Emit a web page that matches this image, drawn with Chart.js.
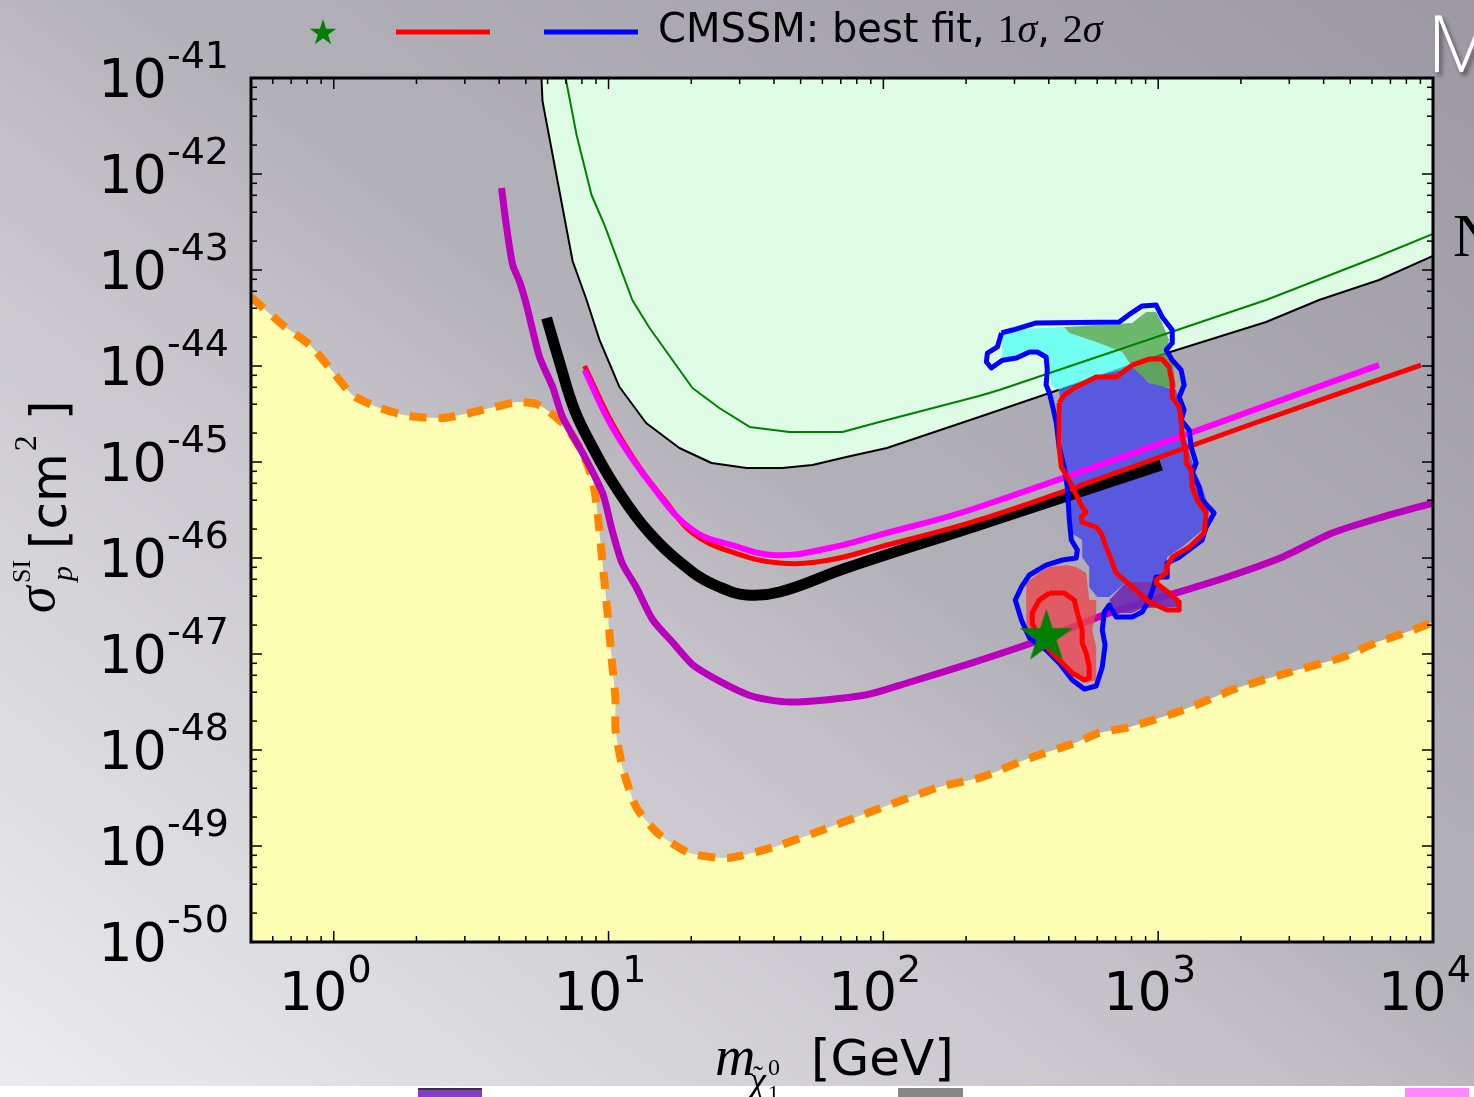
<!DOCTYPE html>
<html lang="en">
<head>
<meta charset="UTF-8" />
<title>Spin-independent cross section vs neutralino mass</title>
<script src="https://cdn.jsdelivr.net/npm/chart.js"></script>
<style>
  body { margin: 0; background: #fff; }
  #wrap { position: relative; width: 1474px; height: 1097px; overflow: hidden; background: #fff; }
  #slide { position: absolute; left: 0; top: 0; width: 1474px; height: 1086px;
    background: linear-gradient(to top right, #ececef 0%, #c4c2c8 43%, #b3b1b8 55%, #9c99a4 100%); }
  .swatch { position: absolute; top: 1088px; height: 9px; }
  #chart { position: absolute; left: 0; top: 0; }
  #slideM { position: absolute; left: 1427px; top: -14px; font: 300 80px "Open Sans", sans-serif; color: #fff;
    text-shadow: 3px 4px 4px rgba(0,0,0,0.45); }
  #slideN { position: absolute; left: 1453px; top: 200px; font: 62px "Liberation Serif", serif; color: #000; }
</style>
</head>
<body>
<div id="wrap">
  <div id="slide"></div>
  <div class="swatch" style="left:418px;width:64px;background:#8040c0;border-top:2px solid #333;"></div>
  <div class="swatch" style="left:898px;width:65px;background:#878787;"></div>
  <div class="swatch" style="left:1405px;width:64px;background:#ff88ff;"></div>
  <canvas id="chart" width="1474" height="1097"></canvas>
  <div id="slideM">M</div>
  <div id="slideN">N</div>
</div>
<script>
  // axis ranges and tick labels (decade exponents)
  const xRange = [0.5, 1e4];
  const yRange = [1e-50, 1e-41];
  const xTickExponents = [0, 1, 2, 3, 4];
  const yTickExponents = [-41, -42, -43, -44, -45, -46, -47, -48, -49, -50];

  // [mass (GeV), sigma_SI (cm^2)]
  const limitThinBlack = [[5.70,1e-41],[5.75,5.75e-42],[7.40,1.24e-43],[8.32,4.87e-44],[9.27,1.87e-44],[10.96,6.04e-45],
    [13.7,2.55e-45],[18.1,1.40e-45],[23.7,9.77e-46],[31.8,8.66e-46],[42.9,8.66e-46],[55.2,9.31e-46],[73.3,1.13e-45],
    [103,1.40e-45],[223,2.94e-45],[1070,1.36e-44],[2470,2.87e-44],[3850,4.87e-44],[6360,7.87e-44],[1e4,1.40e-43]];

  const limitThinGreen = [[6.98,1e-41],[7.65,2.55e-42],[8.67,6.04e-43],[9.67,2.94e-43],[12.2,4.87e-44],[14.1,2.49e-44],
    [20.2,5.90e-45],[25.3,3.65e-45],[32.6,2.32e-45],[45.5,2.05e-45],[71.0,2.05e-45],[96.7,2.61e-45],[223,4.87e-45],
    [264,5.62e-45],[2470,4.87e-44],[6360,1.40e-43],[1e4,2.37e-43]];

  const neutrinoFloor = [[0.5,5.24e-44],[0.653,2.67e-44],[0.818,1.66e-44],[0.967,9.53e-45],[1.17,4.99e-45],[1.47,3.65e-45],
    [1.89,3.01e-45],[2.49,2.87e-45],[3.12,3.24e-45],[4.12,3.92e-45],[4.63,4.22e-45],[5.47,4.02e-45],[6.10,3.32e-45],
    [7.03,2.32e-45],[8.05,1.24e-45],[8.75,6.49e-46],[9.12,2.94e-46],[9.51,8.87e-47],[9.92,2.67e-47],[10.3,8.05e-48],
    [10.6,3.32e-48],[10.6,1.62e-48],[11.3,6.19e-49],[12.6,2.55e-49],[15.1,1.36e-49],[19.7,8.45e-50],[27.1,7.50e-50],
    [40.1,9.77e-50],[60.0,1.47e-49],[93.5,2.37e-49],[160,4.12e-49],[229,5.24e-49],[326,7.87e-49],[508,1.21e-48],
    [605,1.50e-48],[791,1.74e-48],[1233,2.61e-48],[1937,4.42e-48],[3020,6.49e-48],[4710,9.31e-48],[6150,1.30e-47],
    [8040,1.69e-47],[1e4,2.15e-47]];

  const curvePurple = [[4.08,7.14e-43],[4.26,2.74e-43],[4.48,1.13e-43],[4.75,7.50e-44],[5.03,4.31e-44],[5.61,1.24e-44],
    [6.26,6.04e-45],[6.80,2.94e-45],[8.05,1.24e-45],[9.51,4.75e-46],[10.3,1.96e-46],[11.2,8.87e-47],[12.6,4.99e-47],
    [14.5,2.26e-47],[17.2,1.30e-47],[20.7,7.33e-48],[32.3,3.74e-48],[45.9,3.16e-48],[86.0,3.74e-48],[122,4.99e-48],
    [209,8.05e-48],[372,1.40e-47],[664,2.67e-47],[1532,5.50e-47],[2825,1.02e-46],[4295,1.82e-46],[6530,2.67e-46],
    [1e4,3.74e-46]];

  const curveBlack = [[5.95,3.16e-44],[6.63,1.10e-44],[7.52,3.48e-45],[8.67,1.50e-45],[10.5,5.75e-46],[14.1,1.82e-46],
    [20.2,7.14e-47],[25.3,4.99e-47],[31.8,4.12e-47],[41.9,4.42e-47],[73.3,7.87e-47],[223,2.21e-46],[1025,9.31e-46]];

  const curveRed = [[8.18,1.00e-44],[10.3,2.55e-45],[13.0,8.66e-46],[16.0,4.02e-46],[20.2,1.82e-46],[28.2,1.15e-46],
    [41.9,8.87e-47],[63.6,9.53e-47],[96.7,1.30e-46],[223,2.49e-46],[804,8.87e-46],[2143,2.43e-45],[9040,1.02e-44]];

  const curveMagenta = [[8.18,9.09e-45],[10.3,2.32e-45],[14.5,5.50e-46],[20.2,1.96e-46],[28.2,1.36e-46],[40.8,1.07e-46],
    [63.6,1.27e-46],[96.7,1.74e-46],[223,3.40e-46],[6360,1.02e-44]];

  // CMSSM fit: 2 sigma (blue) and 1 sigma (red) contours
  const contour2Sigma = [[269,2.21e-44],[295,2.37e-44],[360,2.81e-44],[721,2.87e-44],[798,3.56e-44],[875,4.22e-44],
    [983,4.31e-44],[1034,3.24e-44],[1125,2.37e-44],[1125,1.74e-44],[1070,1.47e-44],[1125,1.15e-44],[1212,9.09e-45],
    [1243,6.34e-45],[1192,4.75e-45],[1243,3.48e-45],[1212,2.74e-45],[1297,2.15e-45],[1318,1.43e-45],[1374,9.76e-46],
    [1330,7.68e-46],[1409,5.50e-46],[1445,4.02e-46],[1598,2.94e-46],[1495,2.10e-46],[1445,1.54e-46],[1192,1.02e-46],
    [1078,8.87e-47],[1078,6.34e-47],[983,6.34e-47],[967,5.24e-47],[927,3.65e-47],[875,2.74e-47],[804,2.43e-47],
    [703,2.43e-47],[664,3.24e-47],[637,2.74e-47],[626,1.78e-47],[641,1.24e-47],[626,7.33e-48],[595,4.64e-48],
    [538,4.31e-48],[487,5.36e-48],[436,8.05e-48],[391,1.10e-47],[340,1.47e-47],[318,2.26e-47],[302,3.65e-47],
    [318,4.99e-47],[340,6.65e-47],[391,8.45e-47],[448,9.53e-47],[503,1.00e-46],[508,1.21e-46],[483,1.54e-46],
    [475,2.49e-46],[467,5.50e-46],[455,8.87e-46],[436,1.43e-45],[426,2.55e-45],[412,3.92e-45],[402,5.24e-45],
    [391,6.34e-45],[395,9.09e-45],[391,1.24e-44],[363,1.40e-44],[340,1.40e-44],[305,1.21e-44],[271,1.15e-44],
    [247,9.53e-45],[237,1.10e-44],[239,1.36e-44],[260,1.58e-44]];

  const contour1SigmaMain = [[436,4.12e-45],[455,4.99e-45],[503,6.04e-45],[595,7.68e-45],[703,7.68e-45],[804,1.02e-44],
    [927,1.18e-44],[1034,1.18e-44],[1096,9.76e-45],[1125,6.65e-45],[1125,4.75e-45],[1192,3.74e-45],[1212,2.74e-45],
    [1222,1.82e-45],[1265,1.24e-45],[1265,9.76e-46],[1318,8.25e-46],[1330,5.50e-46],[1387,4.02e-46],[1495,2.94e-46],
    [1469,1.82e-46],[1297,1.30e-46],[1125,1.02e-46],[1070,8.05e-47],[1070,6.98e-47],[983,5.90e-47],[983,5.50e-47],
    [1096,4.31e-47],[1192,3.48e-47],[1192,2.87e-47],[1078,2.87e-47],[927,3.48e-47],[804,4.99e-47],[703,6.98e-47],
    [675,9.53e-47],[647,1.30e-46],[620,1.82e-46],[595,2.10e-46],[529,2.37e-46],[525,2.67e-46],[547,3.01e-46],
    [529,3.40e-46],[508,4.31e-46],[487,5.50e-46],[467,6.98e-46],[444,8.87e-46],[436,1.43e-45],[436,2.55e-45]];

  const contour1SigmaLow = [[402,4.31e-47],[455,4.31e-47],[495,3.65e-47],[508,2.67e-47],[529,1.78e-47],[529,1.30e-47],
    [547,1.02e-47],[561,7.33e-48],[561,5.62e-48],[538,5.36e-48],[487,6.34e-48],[448,8.05e-48],[402,1.10e-47],
    [369,1.50e-47],[348,2.10e-47],[348,2.67e-47],[369,3.65e-47]];

  // filled regions inside the contours
  const regionCyan = [[269,2.37e-44],[455,2.55e-44],[475,2.21e-44],[595,1.78e-44],[740,1.40e-44],[804,9.76e-45],
    [595,7.68e-45],[436,5.62e-45],[408,6.34e-45],[402,9.09e-45],[395,1.21e-44],[363,1.40e-44],[299,1.24e-44],[271,1.24e-44]];
  const regionGreen = [[455,2.55e-44],[804,2.81e-44],[904,3.65e-44],[983,3.65e-44],[1034,2.81e-44],[1096,1.87e-44],
    [1070,1.47e-44],[1125,1.15e-44],[1163,6.04e-45],[983,6.04e-45],[875,7.68e-45],[804,9.76e-45],[740,1.40e-44],
    [595,1.78e-44],[475,2.21e-44]];
  const regionBlue = [[436,5.62e-45],[595,7.68e-45],[804,9.76e-45],[927,6.65e-45],[1163,5.62e-45],[1222,2.74e-45],
    [1297,1.24e-45],[1374,7.68e-46],[1445,5.50e-46],[1532,3.40e-46],[1495,2.10e-46],[1222,1.30e-46],[1078,1.02e-46],
    [1070,6.98e-47],[983,5.62e-47],[765,5.62e-47],[664,3.92e-47],[600,3.92e-47],[561,4.99e-47],[561,8.05e-47],
    [529,1.02e-46],[529,1.54e-46],[483,1.82e-46],[475,2.94e-46],[448,8.87e-46],[444,3.24e-45]];
  const regionPurple = [[765,5.62e-47],[983,5.62e-47],[1070,4.31e-47],[1163,3.65e-47],[1192,3.09e-47],[875,3.01e-47],
    [804,2.67e-47],[703,2.67e-47],[664,3.65e-47]];
  const regionRed = [[331,5.50e-47],[369,6.98e-47],[402,8.05e-47],[463,8.45e-47],[503,8.05e-47],[547,6.98e-47],
    [561,3.65e-47],[595,3.65e-47],[595,2.67e-47],[575,1.78e-47],[595,1.18e-47],[595,5.36e-48],[547,4.99e-48],
    [503,6.34e-48],[463,7.33e-48],[331,1.91e-47],[331,3.65e-47]];

  const bestFit = [[392, 1.58e-47]];

  const SANS = '"DejaVu Sans", sans-serif';
  const SERIF = '"Liberation Serif", "DejaVu Serif", serif';

  function starPath(ctx, cx, cy, r) {
    ctx.beginPath();
    for (let i = 0; i < 10; i++) {
      const rad = i % 2 ? r * 0.382 : r;
      const a = -Math.PI / 2 + i * Math.PI / 5;
      ctx.lineTo(cx + rad * Math.cos(a), cy + rad * Math.sin(a));
    }
    ctx.closePath();
  }

  // green star used as the best-fit marker
  const starImg = document.createElement('canvas');
  starImg.width = 58; starImg.height = 58;
  (function () {
    const c = starImg.getContext('2d');
    starPath(c, 29, 31, 28);
    c.fillStyle = '#008000';
    c.fill();
  })();

  const toPoints = pairs => pairs.map(([x, y]) => ({ x, y }));
  const closed = pairs => pairs.concat([pairs[0]]);

  function curve(pairs, opts) {
    return Object.assign({
      data: toPoints(pairs), showLine: true, pointRadius: 0, tension: 0, fill: false,
      borderJoinStyle: 'round', borderCapStyle: 'butt'
    }, opts);
  }

  function region(pairs, color, order) {
    return curve(closed(pairs), { fill: 'shape', backgroundColor: color, borderWidth: 0, borderColor: 'rgba(0,0,0,0)', order });
  }

  const frameAndLabels = {
    id: 'frameAndLabels',
    afterDraw(chart) {
      const { ctx, chartArea: a, scales: { x, y } } = chart;
      ctx.save();
      ctx.strokeStyle = '#000';
      ctx.lineWidth = 1.5;
      const seg = (x1, y1, x2, y2) => { ctx.beginPath(); ctx.moveTo(x1, y1); ctx.lineTo(x2, y2); ctx.stroke(); };

      // log ticks on all four sides, pointing inwards
      for (let e = -1; e <= 4; e++) {
        for (let s = 1; s <= 9; s++) {
          const v = s * Math.pow(10, e);
          if (v < xRange[0] || v > xRange[1]) continue;
          const px = x.getPixelForValue(v);
          const len = s === 1 ? 11 : 6;
          seg(px, a.bottom, px, a.bottom - len);
          seg(px, a.top, px, a.top + len);
        }
      }
      for (let e = -50; e <= -41; e++) {
        [1, 2, 4, 6, 8].forEach(s => {
          const v = s * Math.pow(10, e);
          if (v < yRange[0] || v > yRange[1] * 1.0001) return;
          const py = y.getPixelForValue(v);
          const len = s === 1 ? 11 : 6;
          seg(a.left, py, a.left + len, py);
          seg(a.right, py, a.right - len, py);
        });
      }
      ctx.lineWidth = 3;
      ctx.strokeRect(a.left, a.top, a.right - a.left, a.bottom - a.top);

      ctx.fillStyle = '#000';
      ctx.textBaseline = 'alphabetic';
      ctx.textAlign = 'left';

      // y tick labels 10^n
      yTickExponents.forEach(e => {
        const py = y.getPixelForValue(Math.pow(10, e));
        ctx.font = `54px ${SANS}`;
        const w10 = ctx.measureText('10').width;
        ctx.font = `38px ${SANS}`;
        const sup = String(e);
        const wExp = ctx.measureText(sup).width;
        const x0 = 229 - wExp - w10;
        ctx.font = `54px ${SANS}`;
        ctx.fillText('10', x0, py + 19);
        ctx.font = `38px ${SANS}`;
        ctx.fillText(sup, x0 + w10, py - 10);
      });

      // x tick labels 10^n
      xTickExponents.forEach(e => {
        const px = x.getPixelForValue(Math.pow(10, e));
        ctx.font = `54px ${SANS}`;
        const w10 = ctx.measureText('10').width;
        ctx.fillText('10', px - 55, 1010);
        ctx.font = `38px ${SANS}`;
        ctx.fillText(String(e), px - 55 + w10, 982);
      });

      // x axis title
      ctx.font = `italic 56px ${SERIF}`;
      ctx.fillText('m', 715, 1075);
      ctx.font = `italic 36px ${SERIF}`;
      ctx.fillText('\u03c7', 750, 1092);
      ctx.font = `30px ${SERIF}`;
      ctx.fillText('\u02dc', 753, 1086);
      ctx.font = `24px ${SERIF}`;
      ctx.fillText('0', 768, 1075);
      ctx.font = `22px ${SERIF}`;
      ctx.fillText('1', 768, 1100);
      ctx.font = `50px ${SANS}`;
      ctx.fillText('[GeV]', 811, 1075);

      // y axis title, rotated
      ctx.save();
      ctx.translate(66, 613);
      ctx.rotate(-Math.PI / 2);
      ctx.font = `italic 54px ${SERIF}`;
      ctx.fillText('\u03c3', 0, -12);
      ctx.font = `26px ${SERIF}`;
      ctx.fillText('SI', 30, -36);
      ctx.font = `italic 30px ${SERIF}`;
      ctx.fillText('p', 32, 6);
      ctx.font = `50px ${SANS}`;
      ctx.fillText('[cm', 64, 0);
      const wcm = ctx.measureText('[cm').width;
      ctx.font = `32px ${SERIF}`;
      ctx.fillText('2', 66 + wcm, -30);
      ctx.font = `50px ${SANS}`;
      ctx.fillText(']', 193, 0);
      ctx.restore();

      // legend
      starPath(ctx, 323, 33, 14);
      ctx.fillStyle = '#008000';
      ctx.fill();
      ctx.lineWidth = 5;
      ctx.strokeStyle = '#ff0000';
      seg(396, 32, 490, 32);
      ctx.strokeStyle = '#0000ff';
      seg(544, 32, 638, 32);
      ctx.fillStyle = '#000';
      let tx = 658;
      const put = (txt, font) => { ctx.font = font; ctx.fillText(txt, tx, 42); tx += ctx.measureText(txt).width; };
      put('CMSSM: best fit, ', `40px ${SANS}`);
      put('1', `40px ${SERIF}`);
      put('\u03c3', `italic 40px ${SERIF}`);
      put(', ', `40px ${SANS}`);
      put('2', `40px ${SERIF}`);
      put('\u03c3', `italic 40px ${SERIF}`);
      ctx.restore();
    }
  };

  new Chart(document.getElementById('chart'), {
    type: 'scatter',
    data: {
      datasets: [
        curve(neutrinoFloor, { order: 30, fill: 'start', backgroundColor: '#fdfdb3', borderColor: '#ff8500',
          borderWidth: 8, borderDash: [17, 12], tension: 0.2 }),
        curve(limitThinBlack, { order: 29, fill: 'end', backgroundColor: '#dffde4', borderColor: '#000', borderWidth: 2 }),
        curve(curvePurple, { order: 28, borderColor: '#bb00bb', borderWidth: 7, tension: 0.25 }),
        region(regionCyan, 'rgba(75,255,244,0.75)', 27),
        region(regionGreen, 'rgba(70,160,70,0.75)', 26),
        region(regionBlue, 'rgba(80,80,228,0.9)', 25),
        region(regionPurple, 'rgba(112,40,180,0.9)', 24),
        region(regionRed, 'rgba(235,70,80,0.8)', 23),
        curve(limitThinGreen, { order: 22, borderColor: '#008000', borderWidth: 2 }),
        curve(curveBlack, { order: 21, borderColor: '#000', borderWidth: 11, tension: 0.4 }),
        curve(curveRed, { order: 20, borderColor: '#ff0000', borderWidth: 5, tension: 0.4 }),
        curve(curveMagenta, { order: 19, borderColor: '#ff00ff', borderWidth: 6, tension: 0.4 }),
        curve(closed(contour2Sigma), { order: 18, borderColor: '#0000ff', borderWidth: 5 }),
        curve(closed(contour1SigmaMain), { order: 17, borderColor: '#ff0000', borderWidth: 5 }),
        curve(closed(contour1SigmaLow), { order: 16, borderColor: '#ff0000', borderWidth: 5 }),
        { order: 1, data: toPoints(bestFit), pointStyle: starImg, pointRadius: 28, showLine: false }
      ]
    },
    options: {
      responsive: false,
      devicePixelRatio: 1,
      animation: false,
      layout: { padding: { left: 251, right: 41, top: 78, bottom: 155 } },
      plugins: { legend: { display: false }, tooltip: { enabled: false } },
      scales: {
        x: { type: 'logarithmic', min: xRange[0], max: xRange[1], display: false },
        y: { type: 'logarithmic', min: yRange[0], max: yRange[1], display: false }
      }
    },
    plugins: [frameAndLabels]
  });
</script>
</body>
</html>
